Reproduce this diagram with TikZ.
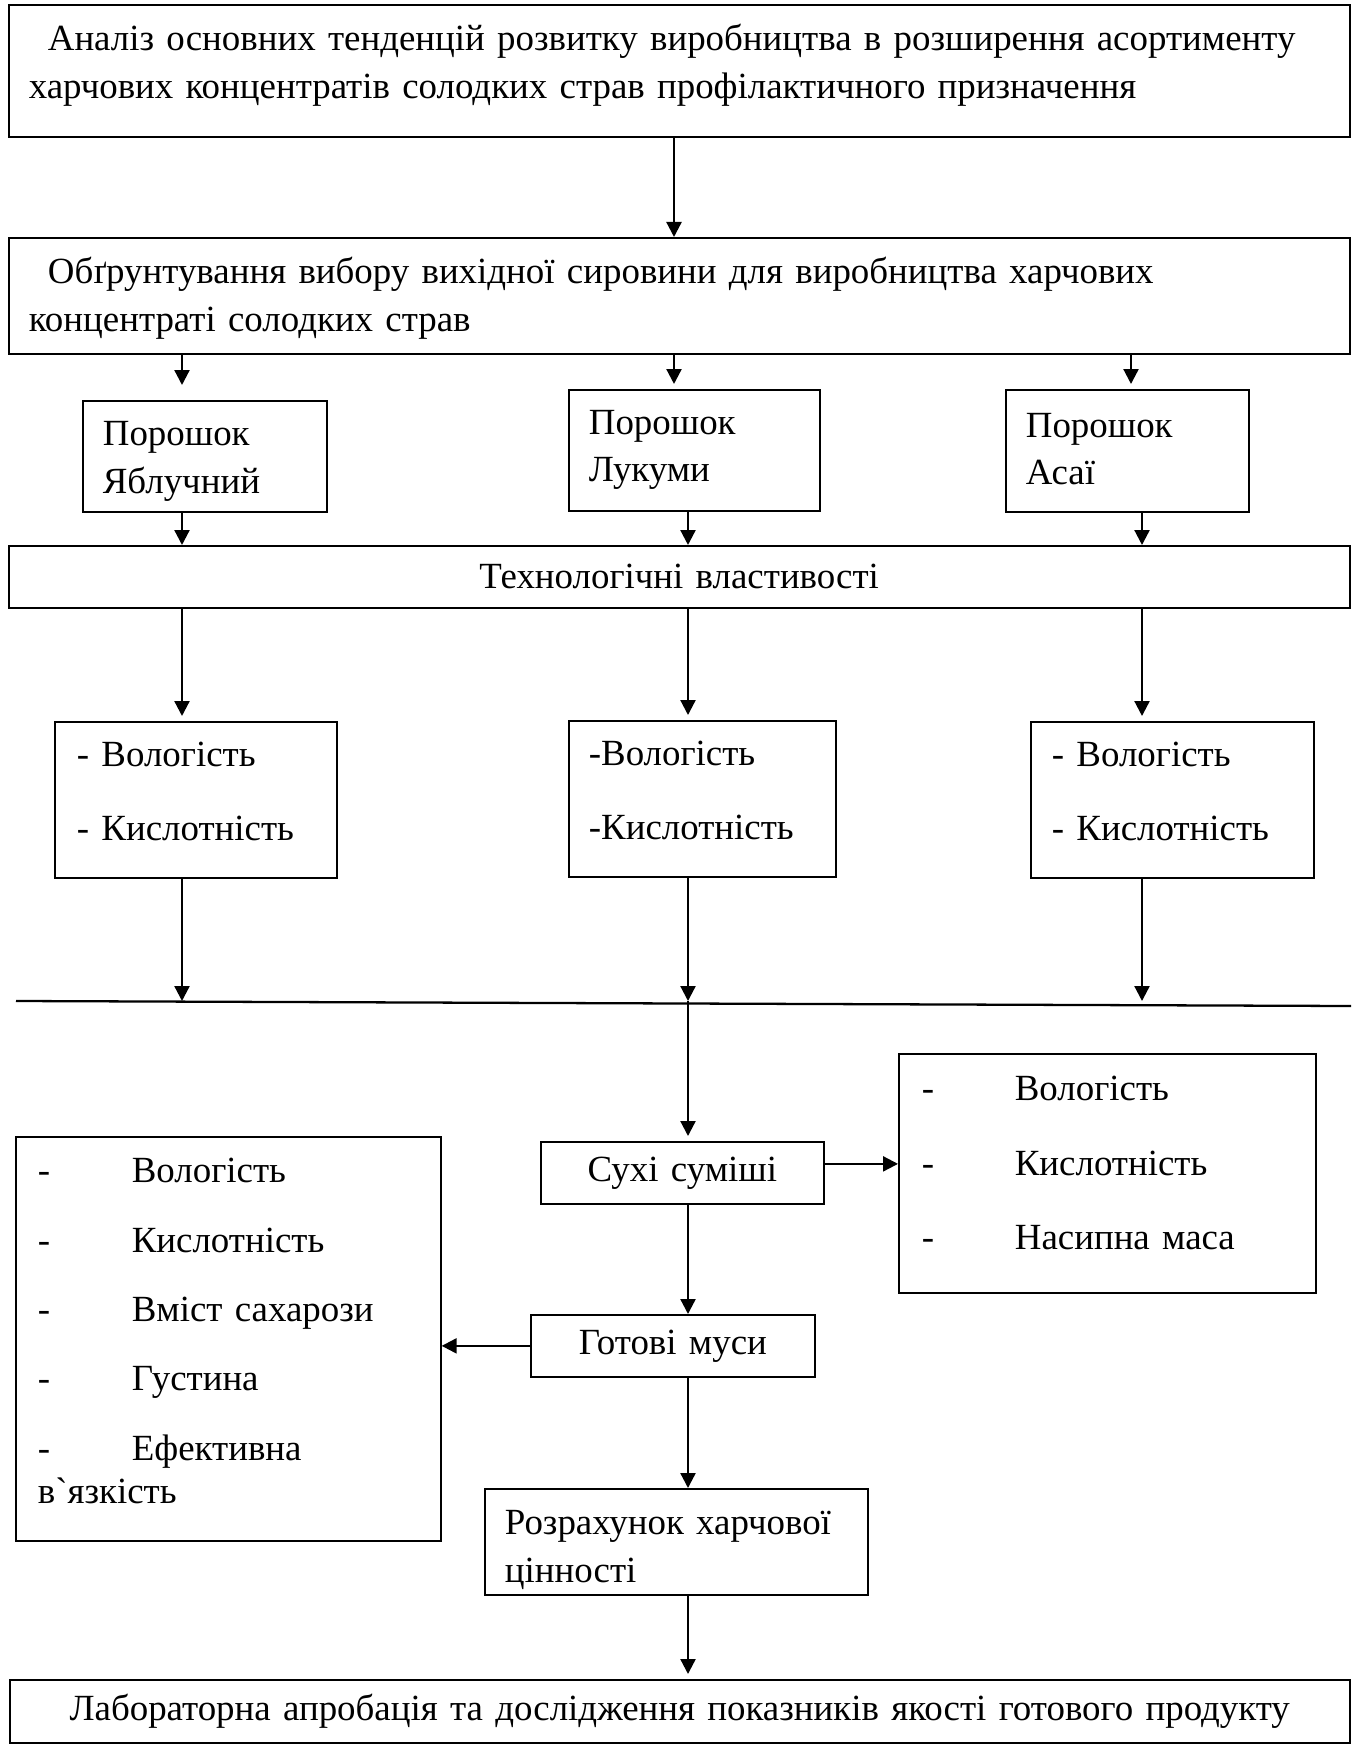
\documentclass[tikz,border=0pt]{standalone}
\usepackage{fontspec}
\setmainfont{Liberation Serif}[Ligatures=TeXOff]
\usetikzlibrary{arrows.meta}

\begin{document}
\begin{tikzpicture}[x=0.02cm, y=-0.02cm,
  box/.style={draw, line width=1pt, rectangle, anchor=north west, inner ysep=0pt,
    inner xsep=0.4cm, align=left, font=\fontsize{21pt}{27pt}\selectfont},
  % first baseline #1 above the middle of the box
  base/.style={text height=0pt, text depth=#1},
  arr/.style={line width=1.3pt, -{Triangle[length=0.3cm, width=0.3cm]}}
]
  \useasboundingbox (0,0) rectangle (1351,1746);

  % Columns of the connectors
  \coordinate (c1) at (182,0);
  \coordinate (c2) at (688,0);
  \coordinate (c3) at (1142,0);
  \coordinate (t2) at (674,0);
  \coordinate (t3) at (1131,0);

  % Wide boxes at the top
  \node[box, base=0.81cm, text width=26.02cm, minimum height=2.65cm] (analysis) at (8,4)
    {\hspace*{0.38cm}Аналіз основних тенденцій розвитку виробництва в розширення асортименту\\
     харчових концентратів солодких страв профілактичного призначення};
  \node[box, base=0.49cm, text width=26.02cm, minimum height=2.32cm] (choice) at (8,237)
    {\hspace*{0.38cm}Обґрунтування вибору вихідної сировини для виробництва харчових\\
     концентраті солодких страв};

  % Powders
  \node[box, base=0.42cm, text width=4.08cm, minimum height=2.22cm] (apple) at (82,400)
    {Порошок\\Яблучний};
  \node[box, base=0.65cm, text width=4.22cm, minimum height=2.42cm] (lukum) at (568,389)
    {Порошок\\Лукуми};
  \node[box, base=0.55cm, text width=4.06cm, minimum height=2.44cm] (acai) at (1005,389)
    {Порошок\\Асаї};

  \node[box, text width=26.02cm, align=center, minimum height=1.24cm] (tech) at (8,545)
    {Технологічні властивості};

  % Properties of each powder
  \node[box, base=1.33cm, inner xsep=0.44cm, text width=4.76cm, minimum height=3.12cm] (propA) at (54,721)
    {- Вологість\\[0.53cm]- Кислотність};
  \node[box, base=1.33cm, text width=4.54cm, minimum height=3.12cm] (propL) at (568,720)
    {-Вологість\\[0.53cm]-Кислотність};
  \node[box, base=1.33cm, inner xsep=0.42cm, text width=4.82cm, minimum height=3.12cm] (propS) at (1030,721)
    {- Вологість\\[0.53cm]- Кислотність};

  % Common line
  \coordinate (busL) at (16,1001);
  \coordinate (busR) at (1351,1006);
  \draw[line width=1.3pt] (busL) -- (busR);

  % Lower part
  \node[box, text width=4.86cm, align=center, minimum height=1.24cm] (drymix) at (540,1141)
    {Сухі суміші};
  \node[box, base=2.93cm, inner xsep=0.46cm, text width=7.42cm, minimum height=4.78cm] (mixprops) at (898,1053)
    {\makebox[1.86cm][l]{-}Вологість\\[0.55cm]
     \makebox[1.86cm][l]{-}Кислотність\\[0.55cm]
     \makebox[1.86cm][l]{-}Насипна маса};
  \node[box, text width=4.88cm, align=center, minimum height=1.24cm] (mousse) at (530,1314)
    {Готові муси};
  \node[box, base=6.25cm, inner xsep=0.44cm, text width=7.62cm, minimum height=8.08cm] (mousseprops) at (15,1136)
    {\makebox[1.88cm][l]{-}Вологість\\[0.44cm]
     \makebox[1.88cm][l]{-}Кислотність\\[0.44cm]
     \makebox[1.88cm][l]{-}Вміст сахарози\\[0.44cm]
     \makebox[1.88cm][l]{-}Густина\\[0.44cm]
     \makebox[1.88cm][l]{-}Ефективна\\[-0.09cm]
     в`язкість};
  \node[box, base=0.28cm, text width=6.86cm, minimum height=2.12cm] (nutri) at (484,1488)
    {Розрахунок харчової\\цінності};
  \node[box, text width=26.0cm, align=center, minimum height=1.26cm] (lab) at (9,1679)
    {Лабораторна апробація та дослідження показників якості готового продукту};

  % Connectors
  \draw[arr] (analysis.south -| t2) -- (choice.north -| t2);
  \draw[arr, shorten >=0.3cm] (choice.south -| c1) -- (apple.north -| c1);
  \draw[arr, shorten >=0.1cm] (choice.south -| t2) -- (lukum.north -| t2);
  \draw[arr, shorten >=0.1cm] (choice.south -| t3) -- (acai.north -| t3);
  \foreach \src/\col in {apple/c1, lukum/c2, acai/c3}
    \draw[arr] (\src.south -| \col) -- (tech.north -| \col);
  \foreach \dst/\col in {propA/c1, propL/c2, propS/c3}
    \draw[arr, shorten >=0.1cm] (tech.south -| \col) -- (\dst.north -| \col);
  \foreach \src/\col in {propA/c1, propL/c2, propS/c3}
    \draw[arr] (\src.south -| \col) -- (busL -| \col);
  \draw[arr, shorten >=0.1cm] (busL -| c2) -- (drymix.north -| c2);
  \draw[arr] ([yshift=0.18cm]drymix.east) -- ([yshift=0.18cm]drymix.east -| mixprops.west);
  \draw[arr] (drymix.south -| c2) -- (mousse.north -| c2);
  \draw[arr] (mousse.west) -- (mousse.west -| mousseprops.east);
  \draw[arr] (mousse.south -| c2) -- (nutri.north -| c2);
  \draw[arr, shorten >=0.1cm] (nutri.south -| c2) -- (lab.north -| c2);
\end{tikzpicture}
\end{document}
